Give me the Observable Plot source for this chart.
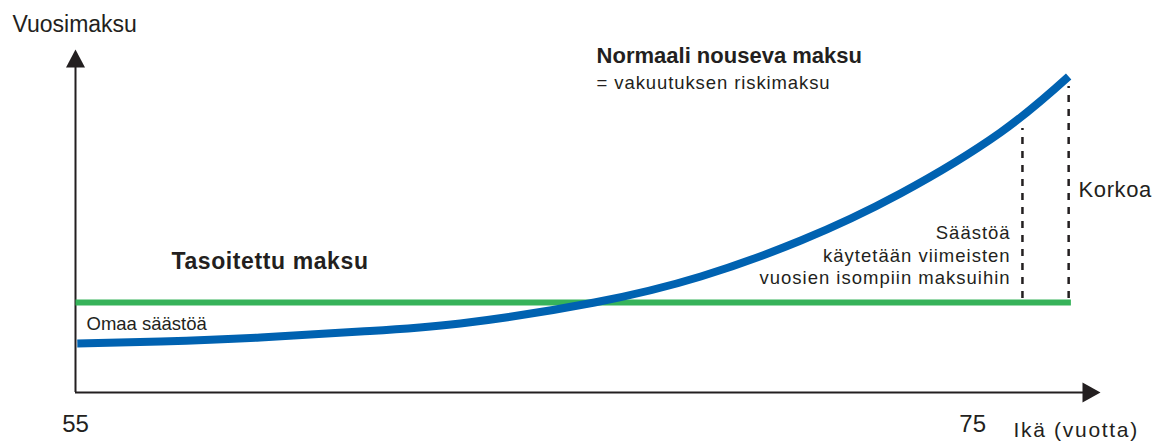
<!DOCTYPE html>
<html>
<head>
<meta charset="utf-8">
<script src="https://cdn.jsdelivr.net/npm/d3@7"></script>
<script src="https://cdn.jsdelivr.net/npm/@observablehq/plot@0.6"></script>
<style>
  html, body { margin: 0; padding: 0; background: #fff; }
</style>
</head>
<body>
<div id="chart"></div>
<script>
// ---- data ----
const curveAges   = [55.04, 56.90, 59.12, 61.35, 63.58, 66.57, 68.94, 71.17, 73.39, 75.62, 77.14];
const curveValues = [14.29, 14.87, 16.03, 17.78, 20.12, 26.24, 33.82, 44.31, 58.02, 75.80, 92.13];
const levelAges   = [55, 77.19];
const levelValue  = 26.24;
const dashAges    = [76.11, 77.14];
const dashTops    = [76.97, 89.2];
const dashBottom  = 27.4;
const xTicks      = [55, 75];
const xMax        = 77.85;
const yMax        = 100;

const curve = curveAges.map((a, i) => ({age: a, value: curveValues[i]}));
const level = levelAges.map(a => ({age: a, value: levelValue}));
const dashes = dashAges.map((a, i) => ({age: a, y1: dashBottom, y2: dashTops[i]}));

const ink = "#231f20";
const blue = "#0062b1";
const green = "#37b35a";

const upTri = { draw(ctx) { ctx.moveTo(0, 0); ctx.lineTo(9.5, 18); ctx.lineTo(-9.5, 18); ctx.closePath(); } };
const rightTri = { draw(ctx) { ctx.moveTo(0, 0); ctx.lineTo(-18, 10); ctx.lineTo(-18, -10); ctx.closePath(); } };

const normalLabels = [
  {text: "Vuosimaksu", age: 53.595, value: 104.96, size: 23},
  {text: "= vakuutuksen riskimaksu", age: 66.617, value: 88.34, size: 18.5},
  {text: "Omaa säästöä", age: 55.245, value: 18.08, size: 18.5},
  {text: "Korkoa", age: 77.36, value: 57.14, size: 22},
  {text: "Ikä (vuotta)", age: 75.91, value: -12.83, size: 21}
];
const boldLabels = [
  {text: "Normaali nouseva maksu", age: 66.617, value: 95.92, size: 22},
  {text: "Tasoitettu maksu", age: 57.14, value: 36.15, size: 23}
];
const noteText = "Säästöä\nkäytetään viimeisten\nvuosien isompiin maksuihin";

const chart = Plot.plot({
  width: 1157,
  height: 441,
  marginLeft: 75,
  marginRight: 57,
  marginTop: 49,
  marginBottom: 49,
  style: {fontFamily: "Liberation Sans, Arial, sans-serif", fontSize: "24px", color: ink, background: "#fff", overflow: "visible"},
  x: {domain: [55, xMax], ticks: xTicks, tickSize: 0, tickPadding: 22, label: null, tickFormat: d => String(d)},
  y: {domain: [0, yMax], axis: null},
  marks: [
    Plot.ruleY([0], {x1: 55, x2: xMax - 0.2, stroke: ink, strokeWidth: 2}),
    Plot.ruleX([55], {y1: 0, y2: yMax - 2, stroke: ink, strokeWidth: 2}),
    Plot.dot([{age: xMax, value: 0}], {x: "age", y: "value", symbol: rightTri, fill: ink, stroke: "none"}),
    Plot.dot([{age: 55, value: yMax}], {x: "age", y: "value", symbol: upTri, fill: ink, stroke: "none"}),
    Plot.ruleX(dashes, {x: "age", y1: "y1", y2: "y2", stroke: ink, strokeWidth: 2.5, strokeDasharray: "7,7"}),
    Plot.line(level, {x: "age", y: "value", stroke: green, strokeWidth: 6, strokeLinecap: "butt"}),
    Plot.line(curve, {x: "age", y: "value", curve: "natural", stroke: blue, strokeWidth: 8, strokeLinecap: "butt"}),
    Plot.text(normalLabels, {x: "age", y: "value", text: "text", fontSize: d => d.size, textAnchor: "start", lineAnchor: "bottom", fill: ink}),
    Plot.text(boldLabels, {x: "age", y: "value", text: "text", fontSize: d => d.size, fontWeight: "bold", textAnchor: "start", lineAnchor: "bottom", fill: ink}),
    Plot.text([noteText], {x: 75.847, y: 31.49, text: d => d, fontSize: 18.5, textAnchor: "end", lineAnchor: "bottom", lineHeight: 1.23, fill: ink})
  ]
});

// per-label letter-spacing (tracking in the original typography)
const spacing = [["= vakuutuksen", 0.9], ["Tasoitettu", 0.6], ["Säästöä", 1.0], ["Korkoa", 0.6], ["Ikä", 1.7]];
d3.select(chart).selectAll("text").each(function () {
  const t = this.textContent;
  for (const [k, v] of spacing) if (t.startsWith(k)) this.setAttribute("letter-spacing", v);
});

document.getElementById("chart").appendChild(chart);
</script>
</body>
</html>
